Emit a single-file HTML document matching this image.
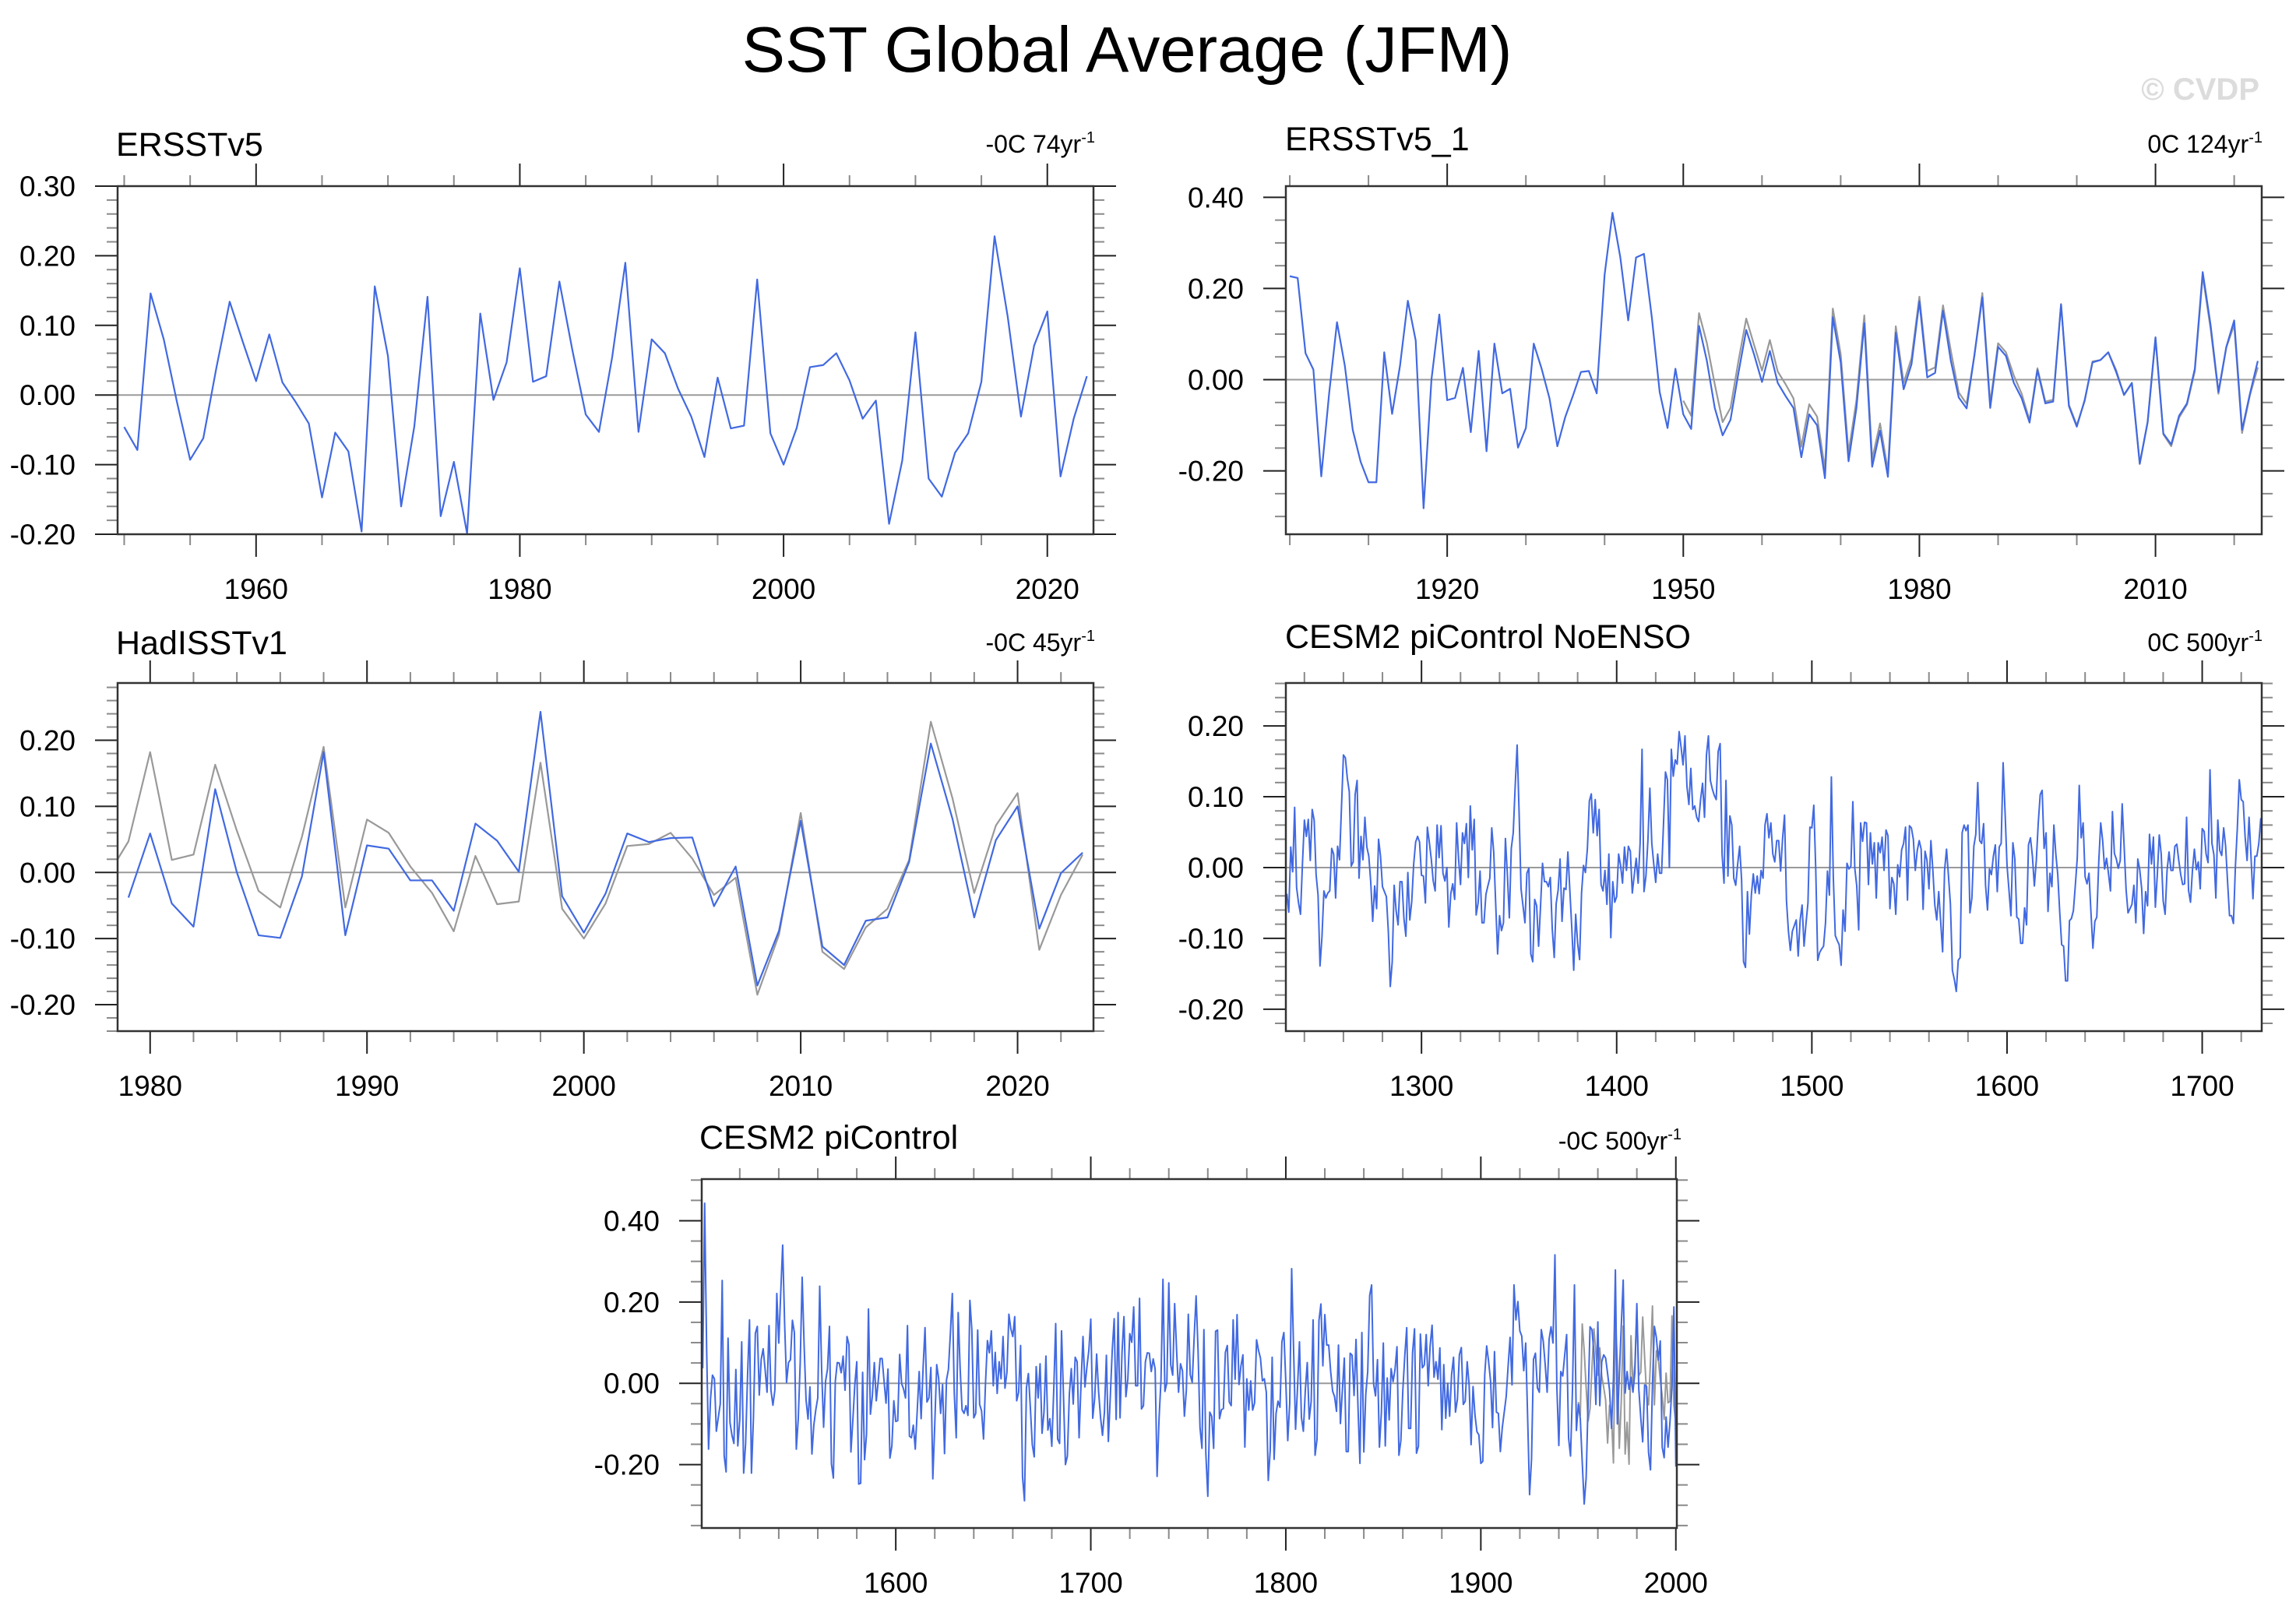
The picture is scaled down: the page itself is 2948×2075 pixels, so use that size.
<!DOCTYPE html>
<html><head><meta charset="utf-8"><title>SST Global Average (JFM)</title>
<style>
html,body{margin:0;padding:0;background:#fff;}
svg{display:block;font-family:"Liberation Sans",Arial,sans-serif;}
</style></head>
<body>
<svg id="fig" xmlns="http://www.w3.org/2000/svg" width="2948" height="2075" viewBox="0 0 2948 2075">
<rect x="0" y="0" width="2948" height="2075" fill="#fff"/>
<text x="1447" y="92" font-size="83" text-anchor="middle" fill="#000">SST Global Average (JFM)</text>
<text x="2901" y="128" font-size="40" font-weight="bold" text-anchor="end" fill="#dcdcdc">© CVDP</text>
</svg>
<script>
// ===== DATA =====
const ersstStart = 1950;
const ersstValues = [
-0.046,-0.079,0.146,0.080,-0.010,-0.093,-0.062,0.040,0.134,0.076,
0.020,0.087,0.018,-0.010,-0.041,-0.147,-0.054,-0.081,-0.196,0.156,
0.056,-0.160,-0.045,0.141,-0.174,-0.096,-0.199,0.117,-0.007,0.047,
0.182,0.019,0.027,0.163,0.063,-0.028,-0.053,0.054,0.190,-0.053,
0.080,0.060,0.009,-0.031,-0.089,0.025,-0.048,-0.044,0.166,-0.055,
-0.100,-0.047,0.040,0.043,0.060,0.021,-0.034,-0.008,-0.185,-0.094,
0.090,-0.120,-0.146,-0.083,-0.055,0.019,0.228,0.112,-0.031,0.071,
0.120,-0.117,-0.034,0.027];

const ersst1Start = 1900;
const ersst1Values = [
0.227,0.223,0.058,0.022,-0.212,-0.030,0.126,0.030,-0.110,-0.180,
-0.225,-0.225,0.060,-0.075,0.030,0.173,0.086,-0.282,0.000,0.143,
-0.045,-0.040,0.026,-0.115,0.063,-0.157,0.079,-0.030,-0.020,-0.149,
-0.106,0.079,0.024,-0.041,-0.146,-0.082,-0.034,0.017,0.019,-0.030,
0.230,0.366,0.268,0.130,0.268,0.276,0.137,-0.027,-0.106,0.024,
-0.076,-0.108,0.118,0.041,-0.062,-0.122,-0.088,0.014,0.109,0.055,
-0.005,0.063,-0.007,-0.036,-0.062,-0.170,-0.076,-0.100,-0.216,0.137,
0.038,-0.179,-0.062,0.124,-0.191,-0.112,-0.213,0.103,-0.021,0.034,
0.172,0.005,0.015,0.151,0.041,-0.039,-0.063,0.055,0.181,-0.062,
0.072,0.052,-0.007,-0.041,-0.094,0.021,-0.052,-0.048,0.165,-0.058,
-0.103,-0.045,0.038,0.043,0.060,0.017,-0.033,-0.007,-0.184,-0.093,
0.093,-0.118,-0.142,-0.079,-0.052,0.024,0.236,0.120,-0.027,0.072,
0.130,-0.110,-0.031,0.041];

const hadStart = 1979;
const hadValues = [
-0.038,0.059,-0.047,-0.082,0.126,0.000,-0.095,-0.099,-0.006,0.182,
-0.095,0.041,0.036,-0.012,-0.012,-0.058,0.074,0.048,0.001,0.243,
-0.036,-0.091,-0.032,0.059,0.046,0.052,0.053,-0.051,0.009,-0.171,
-0.088,0.078,-0.112,-0.140,-0.073,-0.068,0.016,0.195,0.081,-0.068,
0.049,0.100,-0.085,-0.001,0.030];

const noensoStart = 1231;
const noensoValues = [
-0.037,-0.063,0.029,-0.006,0.085,-0.028,-0.050,-0.066,0.005,0.067,0.044,0.068,0.010,0.082,0.067,-0.010,-0.039,-0.139,-0.098,-0.033,
-0.043,-0.036,-0.033,0.027,0.019,-0.043,0.030,0.011,0.085,0.159,0.155,0.126,0.107,0.002,0.008,0.103,0.123,-0.015,0.044,0.011,
0.071,0.029,0.016,-0.021,-0.076,-0.026,-0.058,0.040,0.016,-0.027,-0.034,-0.041,-0.090,-0.168,-0.133,-0.025,-0.061,-0.081,-0.020,-0.020,
-0.072,-0.097,-0.007,-0.074,-0.048,0.005,0.036,0.044,0.036,-0.011,-0.012,-0.050,0.057,0.036,0.012,-0.019,-0.033,0.060,0.014,0.059,
-0.008,-0.019,0.000,-0.084,-0.037,-0.023,-0.045,0.063,0.012,-0.024,0.049,0.034,0.062,-0.014,0.087,0.025,0.068,-0.067,-0.050,-0.005,
-0.078,-0.078,-0.038,-0.026,-0.015,0.056,0.022,-0.050,-0.122,-0.068,-0.089,-0.078,0.041,-0.010,-0.071,0.027,0.049,0.115,0.173,0.078,
-0.030,-0.054,-0.078,-0.008,-0.001,-0.122,-0.133,-0.045,-0.054,-0.111,-0.054,0.006,-0.020,-0.020,-0.027,-0.014,-0.087,-0.127,-0.051,-0.032,
0.012,-0.076,-0.029,-0.031,0.022,-0.032,-0.085,-0.145,-0.066,-0.107,-0.130,-0.036,0.003,-0.007,0.027,0.094,0.104,0.049,0.096,0.045,
0.082,-0.024,-0.033,-0.004,-0.052,0.019,-0.099,-0.020,-0.049,-0.041,0.019,0.003,-0.022,0.029,-0.004,0.030,0.023,-0.036,-0.011,0.013,
-0.022,0.034,0.167,-0.034,-0.012,0.038,0.112,0.034,0.005,-0.021,0.019,-0.008,-0.008,0.062,0.135,0.124,0.000,0.167,0.129,0.152,
0.146,0.192,0.170,0.145,0.186,0.115,0.089,0.140,0.082,0.087,0.071,0.065,0.096,0.119,0.071,0.159,0.186,0.123,0.111,0.102,
0.096,0.164,0.175,0.019,-0.022,0.123,-0.012,0.073,0.060,-0.015,-0.025,0.005,0.030,-0.017,-0.133,-0.141,-0.034,-0.094,-0.039,-0.009,
-0.036,-0.012,-0.037,-0.004,-0.015,0.060,0.076,0.042,0.063,0.019,0.008,0.038,0.038,-0.005,0.041,0.074,
-0.047,-0.090,-0.117,-0.090,-0.082,-0.074,-0.125,-0.074,-0.053,-0.111,-0.079,-0.050,0.057,0.056,0.088,-0.003,-0.131,-0.120,-0.115,-0.111,
-0.078,-0.005,-0.039,0.128,-0.014,-0.096,-0.103,-0.109,-0.138,-0.060,-0.090,0.006,-0.002,0.002,0.093,-0.001,-0.026,-0.088,0.063,0.037,
0.064,0.063,-0.024,0.049,0.005,0.035,-0.043,0.035,0.021,0.043,-0.004,0.053,0.045,-0.058,-0.014,-0.023,-0.066,0.004,-0.013,0.025,
0.034,0.057,-0.046,0.059,0.056,0.040,-0.004,0.024,0.038,0.026,-0.059,0.023,0.010,-0.030,0.038,-0.004,-0.053,-0.074,-0.034,-0.076,
-0.119,-0.004,0.026,-0.012,-0.052,-0.145,-0.158,-0.175,-0.131,-0.127,0.049,0.060,0.052,0.060,-0.064,-0.043,0.030,0.047,0.120,0.038,
0.034,0.062,-0.025,-0.060,-0.002,-0.010,0.016,0.032,-0.034,0.029,0.034,0.148,0.078,0.003,-0.032,-0.068,0.035,0.012,-0.070,-0.073,
-0.107,-0.107,-0.057,-0.081,0.032,0.042,0.016,-0.026,0.010,0.063,0.103,0.109,0.027,0.049,-0.062,-0.008,-0.027,0.060,0.019,-0.010,
-0.063,-0.109,-0.111,-0.160,-0.160,-0.075,-0.072,-0.061,-0.025,0.014,0.116,0.042,0.063,-0.013,-0.023,-0.008,-0.063,-0.114,-0.076,-0.070,
0.008,0.063,0.038,-0.002,0.013,-0.009,-0.033,0.079,0.020,0.012,-0.001,0.010,0.090,0.030,-0.031,-0.064,-0.058,-0.052,-0.025,-0.078,
0.012,-0.003,-0.030,-0.093,-0.034,-0.054,0.047,0.005,0.043,-0.056,-0.010,0.046,0.019,-0.047,-0.066,-0.004,0.022,-0.004,-0.004,0.030,
0.033,0.010,-0.010,-0.024,-0.023,0.071,-0.032,-0.049,-0.004,0.026,-0.003,0.008,-0.030,0.055,0.051,0.019,0.007,0.138,0.034,0.018,
-0.043,0.067,0.024,0.017,0.056,0.030,-0.020,-0.068,-0.068,-0.079,0.001,0.056,0.124,0.096,0.093,0.043,0.010,0.071,0.016,-0.044,
0.016,0.016,0.034,0.069,0.069];

const piStart = 1501;
const piValues = [
0.037,0.443,0.088,-0.162,-0.039,0.020,0.011,-0.118,-0.084,-0.051,0.253,-0.178,-0.218,0.111,-0.097,-0.128,-0.148,0.034,-0.154,-0.090,
0.102,-0.221,-0.148,0.018,0.156,-0.221,-0.087,0.123,0.140,-0.029,0.059,0.085,0.034,-0.022,0.142,-0.017,-0.054,-0.017,0.221,0.099,
0.221,0.340,0.148,0.002,0.051,0.058,0.155,0.125,-0.162,-0.087,0.050,0.261,0.094,-0.041,-0.088,-0.009,-0.174,-0.102,-0.065,-0.036,
0.239,0.031,-0.108,0.005,0.035,0.140,-0.198,-0.233,0.005,0.051,0.050,0.026,0.067,-0.017,0.115,0.095,-0.169,-0.090,-0.003,0.053,
-0.248,-0.246,0.027,-0.188,-0.125,0.183,-0.076,-0.030,0.051,-0.043,0.005,0.061,0.061,0.005,-0.049,0.035,-0.184,-0.154,-0.043,-0.094,
-0.092,0.071,-0.001,-0.014,-0.036,0.142,-0.130,-0.134,-0.103,-0.162,-0.068,0.029,-0.087,0.037,0.137,-0.046,-0.036,0.039,-0.235,-0.100,
0.046,0.011,-0.074,-0.003,-0.173,0.008,0.034,0.123,0.221,-0.024,-0.134,0.174,0.037,-0.065,-0.074,-0.055,-0.079,0.204,0.132,-0.085,
-0.074,0.131,-0.052,-0.068,-0.137,-0.001,0.105,0.075,0.129,-0.006,0.076,-0.025,0.053,0.011,0.115,-0.012,0.027,0.170,0.134,0.115,
0.164,-0.043,-0.022,0.093,-0.230,-0.289,-0.011,0.024,-0.059,-0.151,-0.181,0.041,-0.036,0.048,-0.123,-0.071,0.067,-0.115,-0.087,-0.155,
-0.017,0.147,-0.137,-0.148,0.129,-0.031,-0.200,-0.179,-0.027,0.036,-0.051,0.064,0.053,-0.134,-0.001,0.115,-0.009,0.040,0.081,0.158,
-0.086,-0.036,0.072,-0.020,-0.084,-0.128,-0.071,0.069,-0.143,-0.033,0.081,0.159,-0.089,0.174,-0.085,0.075,0.164,-0.033,0.011,0.122,
0.101,0.188,-0.006,-0.006,0.209,-0.063,-0.055,0.053,0.075,0.074,0.029,0.060,0.035,-0.229,-0.087,0.008,0.256,-0.020,0.001,0.247,
0.045,0.020,0.196,0.081,-0.022,0.048,0.031,-0.081,-0.017,0.170,0.021,0.002,0.113,0.215,
0.081,-0.109,-0.160,0.132,-0.173,-0.278,-0.071,-0.081,-0.160,0.128,0.131,-0.087,-0.065,-0.062,0.076,0.093,-0.046,-0.055,0.156,0.010,
0.169,-0.003,0.043,0.070,-0.157,0.011,-0.066,0.006,-0.066,-0.048,0.107,0.081,0.062,0.006,0.011,-0.022,-0.239,-0.165,0.064,-0.187,
-0.074,-0.044,-0.059,0.102,0.125,0.004,-0.141,-0.049,0.282,0.081,-0.113,-0.011,0.102,-0.084,-0.118,-0.017,0.051,-0.088,-0.045,0.156,
-0.177,-0.138,0.155,0.195,0.043,0.169,0.094,0.094,0.029,-0.019,-0.033,-0.069,0.094,-0.099,-0.017,0.062,-0.168,-0.168,0.074,0.069,
-0.030,0.108,-0.057,-0.197,0.125,-0.169,-0.027,0.029,0.216,0.242,-0.001,-0.031,0.058,-0.157,-0.073,0.099,-0.154,0.013,-0.090,0.036,
0.004,0.034,0.090,-0.177,-0.141,-0.017,0.067,0.137,-0.111,-0.111,0.076,0.134,-0.172,-0.155,0.121,0.038,0.045,0.120,-0.006,0.092,
0.143,0.015,0.053,0.010,0.087,-0.114,0.046,-0.086,0.000,-0.081,0.021,0.064,-0.071,-0.039,0.070,0.088,-0.052,-0.044,0.053,-0.004,
-0.151,-0.008,-0.078,-0.119,-0.127,-0.197,-0.192,0.021,0.092,0.053,0.005,-0.109,0.078,-0.071,-0.074,-0.168,-0.109,-0.071,-0.033,0.043,
0.113,-0.004,0.242,0.156,0.201,0.129,0.116,0.031,0.099,-0.084,-0.274,-0.186,0.059,0.074,-0.011,-0.022,0.132,0.104,0.046,-0.022,
0.108,0.139,0.099,0.316,-0.011,-0.153,0.029,0.018,0.069,0.120,-0.135,-0.179,-0.014,0.242,-0.116,-0.052,-0.087,-0.195,-0.297,-0.233,
-0.046,0.139,0.132,0.074,-0.052,0.151,-0.055,0.053,0.070,0.062,0.024,-0.017,-0.111,0.013,0.279,-0.100,0.019,0.139,0.254,-0.024,
0.029,-0.015,0.015,-0.022,0.027,0.196,-0.014,-0.084,-0.144,-0.004,-0.008,-0.170,-0.213,-0.004,0.140,0.113,0.057,0.104,-0.157,-0.183,
-0.083,-0.157,-0.094,-0.008,0.188,-0.205];

// tick label arrays
const p1YTicks = ["0.30","0.20","0.10","0.00","-0.10","-0.20"];
const p2YTicks = ["0.40","0.20","0.00","-0.20"];
const p3YTicks = ["0.20","0.10","0.00","-0.10","-0.20"];
const p4YTicks = ["0.20","0.10","0.00","-0.10","-0.20"];
const p5YTicks = ["0.40","0.20","0.00","-0.20"];
const p1XTicks = ["1960","1980","2000","2020"];
const p2XTicks = ["1920","1950","1980","2010"];
const p3XTicks = ["1980","1990","2000","2010","2020"];
const p4XTicks = ["1300","1400","1500","1600","1700"];
const p5XTicks = ["1600","1700","1800","1900","2000"];

// ===== DRAWING =====
const NS = "http://www.w3.org/2000/svg";
const svg = document.getElementById("fig");
function mk(tag, attrs, parent) {
  const e = document.createElementNS(NS, tag);
  for (const k in attrs) e.setAttribute(k, attrs[k]);
  (parent || svg).appendChild(e);
  return e;
}

function drawPanel(cfg) {
  const g = mk("g", {});
  
  
  const sx = v => cfg.x0 + (v - cfg.xmin) / (cfg.xmax - cfg.xmin) * (cfg.x1 - cfg.x0);
  const sy = v => cfg.y1 - (v - cfg.ymin) / (cfg.ymax - cfg.ymin) * (cfg.y1 - cfg.y0);
  const cid = cfg.name + "-clip";
  const cp = mk("clipPath", {id: cid}, g);
  mk("rect", {x: cfg.x0, y: cfg.y0, width: cfg.x1 - cfg.x0, height: cfg.y1 - cfg.y0}, cp);

  const zl = mk("line", {x1: cfg.x0, x2: cfg.x1, y1: sy(0), y2: sy(0), stroke: "#9a9a9a", "stroke-width": 2}, g);
  
  

  cfg.series.forEach(s => {
    let d = "";
    s.values.forEach((v, i) => { d += (i ? "L" : "M") + sx(s.start + i).toFixed(2) + "," + sy(v).toFixed(2); });
    const p = mk("path", {d: d, fill: "none", stroke: s.color, "stroke-width": s.w || 2.2, "stroke-linejoin": "round", "clip-path": "url(#" + cid + ")"}, g);
    
    
  });

  const eps = 1e-6;
  const tg = mk("g", {}, g);
  
  
  for (let v = Math.ceil(cfg.xmin / cfg.xMinor) * cfg.xMinor; v <= cfg.xmax + eps; v += cfg.xMinor) {
    const major = Math.abs(v / cfg.xMajor - Math.round(v / cfg.xMajor)) < 1e-6;
    const L = major ? 29 : 14, x = sx(v);
    const col = major ? "#222" : "#8a8a8a";
    mk("line", {x1: x, x2: x, y1: cfg.y0, y2: cfg.y0 - L, stroke: col, "stroke-width": 2}, tg);
    mk("line", {x1: x, x2: x, y1: cfg.y1, y2: cfg.y1 + L, stroke: col, "stroke-width": 2}, tg);
  }
  for (let k = Math.ceil(cfg.ymin / cfg.yMinor - eps); k * cfg.yMinor <= cfg.ymax + eps; k++) {
    const v = k * cfg.yMinor;
    const major = Math.abs(v / cfg.yMajor - Math.round(v / cfg.yMajor)) < 1e-6;
    const L = major ? 29 : 14, y = sy(v);
    const col = major ? "#222" : "#8a8a8a";
    mk("line", {x1: cfg.x0, x2: cfg.x0 - L, y1: y, y2: y, stroke: col, "stroke-width": 2}, tg);
    mk("line", {x1: cfg.x1, x2: cfg.x1 + L, y1: y, y2: y, stroke: col, "stroke-width": 2}, tg);
  }

  const br = mk("rect", {x: cfg.x0, y: cfg.y0, width: cfg.x1 - cfg.x0, height: cfg.y1 - cfg.y0, fill: "none", stroke: "#333", "stroke-width": 2.5}, g);
  
  

  cfg.yLabels.forEach(lbl => {
    const t = mk("text", {x: cfg.x0 - 54, y: sy(parseFloat(lbl)) + 13, "font-size": 37, "text-anchor": "end", fill: "#000"}, g);
    t.textContent = lbl;
    
    
  });
  cfg.xLabels.forEach(lbl => {
    const t = mk("text", {x: sx(parseFloat(lbl)), y: cfg.y1 + 83, "font-size": 37, "text-anchor": "middle", fill: "#000"}, g);
    t.textContent = lbl;
    
    
  });
  const tt = mk("text", {x: cfg.titleX, y: cfg.titleY, "font-size": 43, fill: "#000"}, g);
  tt.textContent = cfg.title;
  
  
  const rt = mk("text", {x: cfg.rightX, y: cfg.rightY, "font-size": 32, "text-anchor": "end", fill: "#000"}, g);
  
  
  const t1 = mk("tspan", {}, rt); t1.textContent = cfg.right;
  const t2 = mk("tspan", {dy: -13, "font-size": 20}, rt); t2.textContent = "-1";
}

const BLUE = "#4169e1", GRAY = "#999999";

drawPanel({name: "panel-ersstv5", x0: 151, x1: 1404, y0: 239, y1: 686,
  xmin: 1949.5, xmax: 2023.5, ymin: -0.2, ymax: 0.3, xMajor: 20, xMinor: 5, yMajor: 0.1, yMinor: 0.02,
  yLabels: p1YTicks, xLabels: p1XTicks, title: "ERSSTv5", titleX: 149, titleY: 200,
  right: "-0C 74yr", rightX: 1406, rightY: 196,
  series: [{name: "ersstv5-line", start: ersstStart, values: ersstValues, color: BLUE}]});

drawPanel({name: "panel-ersstv5-1", x0: 1651, x1: 2904, y0: 239, y1: 686,
  xmin: 1899.5, xmax: 2023.5, ymin: -0.339, ymax: 0.4245, xMajor: 30, xMinor: 10, yMajor: 0.2, yMinor: 0.05,
  yLabels: p2YTicks, xLabels: p2XTicks, title: "ERSSTv5_1", titleX: 1650, titleY: 193,
  right: "0C 124yr", rightX: 2905, rightY: 196,
  series: [{name: "ersstv5-reference-line", start: ersstStart, values: ersstValues, color: GRAY},
           {name: "ersstv5-1-line", start: ersst1Start, values: ersst1Values, color: BLUE}]});

drawPanel({name: "panel-hadisstv1", x0: 151, x1: 1404, y0: 877, y1: 1324,
  xmin: 1978.5, xmax: 2023.5, ymin: -0.24, ymax: 0.2866, xMajor: 10, xMinor: 2, yMajor: 0.1, yMinor: 0.02,
  yLabels: p3YTicks, xLabels: p3XTicks, title: "HadISSTv1", titleX: 149, titleY: 840,
  right: "-0C 45yr", rightX: 1406, rightY: 836,
  series: [{name: "ersstv5-reference-line", start: ersstStart, values: ersstValues, color: GRAY},
           {name: "hadisstv1-line", start: hadStart, values: hadValues, color: BLUE}]});

drawPanel({name: "panel-cesm2-picontrol-noenso", x0: 1651, x1: 2904, y0: 877, y1: 1324,
  xmin: 1230.5, xmax: 1730.5, ymin: -0.231, ymax: 0.2606, xMajor: 100, xMinor: 20, yMajor: 0.1, yMinor: 0.02,
  yLabels: p4YTicks, xLabels: p4XTicks, title: "CESM2 piControl NoENSO", titleX: 1650, titleY: 832,
  right: "0C 500yr", rightX: 2905, rightY: 836,
  series: [{name: "cesm2-noenso-line", start: noensoStart, values: noensoValues, color: BLUE, w: 2}]});

drawPanel({name: "panel-cesm2-picontrol", x0: 901, x1: 2153, y0: 1514, y1: 1962,
  xmin: 1500.5, xmax: 2000.5, ymin: -0.356, ymax: 0.5024, xMajor: 100, xMinor: 20, yMajor: 0.2, yMinor: 0.05,
  yLabels: p5YTicks, xLabels: p5XTicks, title: "CESM2 piControl", titleX: 898, titleY: 1475,
  right: "-0C 500yr", rightX: 2159, rightY: 1476,
  series: [{name: "ersstv5-reference-line", start: ersstStart, values: ersstValues, color: GRAY, w: 2},
           {name: "cesm2-picontrol-line", start: piStart, values: piValues, color: BLUE, w: 2}]});
</script>
</body></html>
